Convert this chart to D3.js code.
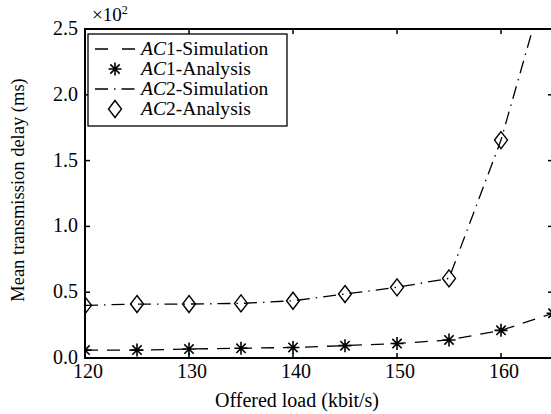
<!DOCTYPE html>
<html><head><meta charset="utf-8">
<script src="https://cdn.jsdelivr.net/npm/d3@7"></script>
<style>body{margin:0;background:#fff}svg{display:block}</style>
</head><body><svg id="c" width="551" height="414" font-family="'Liberation Serif', 'Times New Roman', Times, 'DejaVu Serif', serif"></svg>
<script>
const loads = [120,125,130,135,140,145,150,155,160,165];
const ac1Sim = [0.06,0.06,0.068,0.074,0.08,0.094,0.11,0.137,0.21,0.34];
const ac1Ana = [0.06,0.06,0.068,0.074,0.08,0.094,0.11,0.137,0.21,0.34];
const ac2Sim = [0.40,0.41,0.41,0.415,0.435,0.486,0.537,0.605,1.656,3.04];
const ac2Ana = [0.40,0.41,0.41,0.415,0.435,0.486,0.537,0.605,1.656,null];
const xTicks = [120,130,140,150,160];
const yTicks = [0,0.5,1.0,1.5,2.0,2.5];
const legendLabels = [["AC","1-Simulation"],["AC","1-Analysis"],["AC","2-Simulation"],["AC","2-Analysis"]];

const svg = d3.select("#c");
const L=85,R=553,T=29,B=358;
const x = d3.scaleLinear().domain([120,165]).range([L,R]);
const y = d3.scaleLinear().domain([0,2.5]).range([B,T]);
const FS = 20;

svg.append("defs").append("clipPath").attr("id","clip").append("rect")
  .attr("x",L).attr("y",T).attr("width",R-L).attr("height",B-T);

svg.append("rect").attr("x",L).attr("y",T).attr("width",R-L).attr("height",B-T)
  .attr("fill","none").attr("stroke","#000").attr("stroke-width",2);

const tl=5;
xTicks.forEach(v=>{
  svg.append("line").attr("x1",x(v)).attr("x2",x(v)).attr("y1",B).attr("y2",B-tl).attr("stroke","#000").attr("stroke-width",1.5);
  svg.append("line").attr("x1",x(v)).attr("x2",x(v)).attr("y1",T).attr("y2",T+tl).attr("stroke","#000").attr("stroke-width",1.5);
  svg.append("text").attr("x",x(v)+3).attr("y",B+20).attr("text-anchor","middle").attr("font-size",FS).text(v);
});
yTicks.forEach(v=>{
  svg.append("line").attr("x1",L).attr("x2",L+tl).attr("y1",y(v)).attr("y2",y(v)).attr("stroke","#000").attr("stroke-width",1.5);
  svg.append("line").attr("x1",R).attr("x2",R-tl).attr("y1",y(v)).attr("y2",y(v)).attr("stroke","#000").attr("stroke-width",1.5);
  svg.append("text").attr("x",L-7).attr("y",y(v)+6).attr("text-anchor","end").attr("font-size",FS).text(v.toFixed(1));
});

const mt = svg.append("text").attr("x",92).attr("y",21).attr("font-size",FS-1);
mt.append("tspan").text("×10");
mt.append("tspan").attr("dy",-7).attr("font-size",12).text("2");

svg.append("text").attr("x",297).attr("y",407).attr("text-anchor","middle").attr("font-size",FS).text("Offered load (kbit/s)");
svg.append("text").attr("transform",`translate(24,190) rotate(-90)`).attr("text-anchor","middle").attr("font-size",18.5).text("Mean transmission delay (ms)");

const plot = svg.append("g").attr("clip-path","url(#clip)");
const line = d3.line().defined(d=>d[1]!=null).x(d=>x(d[0])).y(d=>y(d[1]));
const dashA = "13,9", dashB = "13,6,1.5,6";
plot.append("path").datum(loads.map((l,i)=>[l,ac1Sim[i]])).attr("d",line)
  .attr("fill","none").attr("stroke","#000").attr("stroke-width",1.3).attr("stroke-dasharray",dashA);
plot.append("path").datum(loads.map((l,i)=>[l,ac2Sim[i]])).attr("d",line)
  .attr("fill","none").attr("stroke","#000").attr("stroke-width",1.3).attr("stroke-dasharray",dashB);

function star(g,cx,cy,r){
  const a=r*0.72;
  g.append("path").attr("d",`M${cx-r},${cy}L${cx+r},${cy}M${cx},${cy-r}L${cx},${cy+r}M${cx-a},${cy-a}L${cx+a},${cy+a}M${cx-a},${cy+a}L${cx+a},${cy-a}`)
   .attr("stroke","#000").attr("stroke-width",1.6).attr("fill","none");
}
function diamond(g,cx,cy,w,h){
  g.append("path").attr("d",`M${cx},${cy-h}L${cx+w},${cy}L${cx},${cy+h}L${cx-w},${cy}Z`)
   .attr("stroke","#000").attr("stroke-width",1.4).attr("fill","none");
}
loads.forEach((l,i)=>{ if(ac1Ana[i]!=null) star(plot,x(l),y(ac1Ana[i]),6.5); });
loads.forEach((l,i)=>{ if(ac2Ana[i]!=null) diamond(plot,x(l),y(ac2Ana[i]),6.5,8.5); });

const lg = svg.append("g");
lg.append("rect").attr("x",88).attr("y",34).attr("width",199).attr("height",92)
  .attr("fill","#fff").attr("stroke","#000").attr("stroke-width",1.3);
const rows=[49,69,89,109];
lg.append("line").attr("x1",95).attr("x2",135).attr("y1",rows[0]).attr("y2",rows[0]).attr("stroke","#000").attr("stroke-width",1.3).attr("stroke-dasharray","13,14");
star(lg,115,rows[1],6.5);
lg.append("line").attr("x1",95).attr("x2",135).attr("y1",rows[2]).attr("y2",rows[2]).attr("stroke","#000").attr("stroke-width",1.3).attr("stroke-dasharray","13,6,1.5,6");
diamond(lg,115,rows[3],6.5,8.5);
legendLabels.forEach((lb,i)=>{
  const t=lg.append("text").attr("transform",`translate(141,${rows[i]+6}) scale(1.1,1)`).attr("font-size",17.8);
  t.append("tspan").attr("font-style","italic").text(lb[0]);
  t.append("tspan").text(lb[1]);
});
</script></body></html>
